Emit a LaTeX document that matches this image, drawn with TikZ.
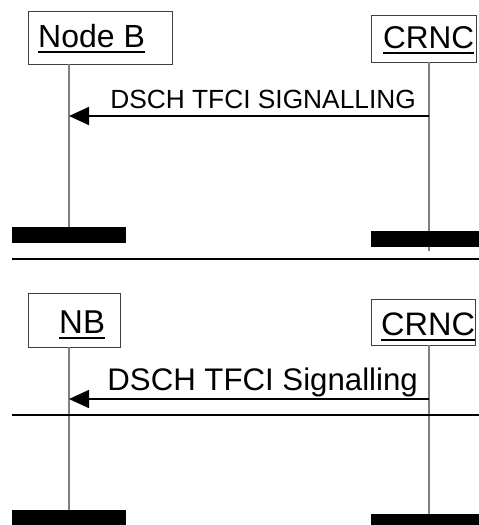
\documentclass[tikz,border=0pt]{standalone}
\usepackage{fontspec}
\setmainfont{Liberation Sans}
\usetikzlibrary{arrows.meta, positioning}
\definecolor{cline}{HTML}{7F7F7F}
\definecolor{cbox}{HTML}{3F3F3F}
\newcommand\entul[1]{\setbox0\hbox{#1}\rlap{\rule[-6pt]{\wd0}{2.2pt}}\box0}
\tikzset{
  entity/.style={draw=cbox, line width=0.8pt, fill=white, inner sep=0pt, anchor=north west},
  entname/.style={font=\fontsize{#1}{#1}\selectfont, anchor=base west, inner sep=0pt},
  entname/.default=30,
  lifeline/.style={draw=cline, line width=1.4pt},
  msg/.style={-{Triangle[length=20pt, width=18pt]}, line width=1.6pt},
  msglabel/.style={font=\fontsize{#1}{#1}\selectfont, anchor=base east, inner sep=0pt},
  endbar/.style={fill=black, inner sep=0pt, minimum width=#1, minimum height=16pt, anchor=north},
  endbar/.default=116pt,
  divider/.style={line width=2.5pt},
}
\begin{document}
\begin{tikzpicture}[x=1pt, y=-1pt]
  \useasboundingbox (0,0) rectangle (479,525);
  \node[entity, minimum width=144pt, minimum height=53pt] (nodeb) at (28,11) {};
  \node[entname=32] (nodebname) at (38,47) {\entul{Node B}};
  \node[entity, minimum width=105pt, minimum height=47pt] (crnc) at (371,15) {};
  \node[entname=31.5] (crncname) at (383,48) {\entul{CRNC}};
  \coordinate (nodebtop) at (69,64);
  \coordinate (crnctop) at (429,62);
  \coordinate (crncend) at (429,251);
  \draw[lifeline] (nodebtop) -- (69,227);
  \draw[lifeline] (crnctop) -- (crncend);
  \node[endbar=114pt] (nodebbar) at (69,227) {};
  \node[endbar] (crncbar) at (429,231) {};
  \coordinate (sigfrom) at (429,116);
  \coordinate (sigto) at (69,116);
  \draw[msg] (sigfrom) -- (sigto);
  \node[msglabel=26.3] (siglabel) at (416,108) {DSCH TFCI SIGNALLING};
  \coordinate (divone) at (12,259);
  \coordinate (divoneend) at (485,259);
  \draw[divider] (divone) -- (divoneend);
  \node[entity, minimum width=92pt, minimum height=54pt] (nb) at (28,293) {};
  \node[entname=33] (nbname) at (59,333) {\entul{NB}};
  \node[entity, minimum width=104pt, minimum height=46pt] (crnctwo) at (371,299) {};
  \node[entname=32.5] (crnctwoname) at (381,335) {\entul{CRNC}};
  \coordinate (nbtop) at (69,347);
  \coordinate (crnctwotop) at (429,345);
  \node[endbar=114pt] (nbbar) at (69,510) {};
  \node[endbar] (crnctwobar) at (429,514) {};
  \draw[lifeline] (nbtop) -- (nbbar.north);
  \draw[lifeline] (crnctwotop) -- (crnctwobar.north);
  \coordinate (sigtwofrom) at (429,399);
  \coordinate (sigtwoto) at (69,399);
  \draw[msg] (sigtwofrom) -- (sigtwoto);
  \node[msglabel=31.2] (sigtwolabel) at (418,390) {DSCH TFCI Signalling};
  \coordinate (divtwo) at (12,415);
  \coordinate (divtwoend) at (485,415);
  \draw[divider] (divtwo) -- (divtwoend);
\end{tikzpicture}
\end{document}
